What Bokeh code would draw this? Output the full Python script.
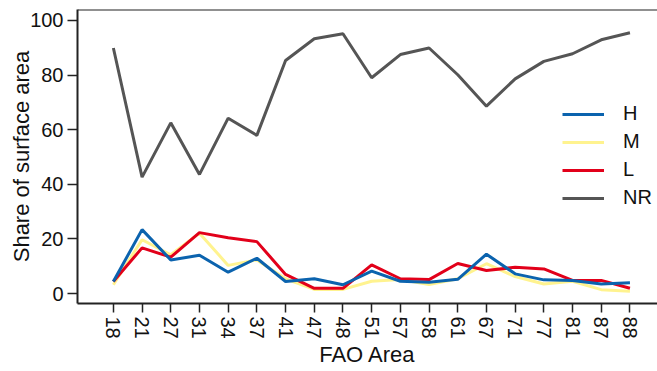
from bokeh.plotting import figure
from bokeh.models import (FixedTicker, Legend, LegendItem, Span, Range1d)
from bokeh.embed import file_html
from bokeh.resources import INLINE

areas = ["18", "21", "27", "31", "34", "37", "41", "47", "48", "51",
         "57", "58", "61", "67", "71", "77", "81", "87", "88"]
H = [4.4, 23.4, 12.3, 14.0, 7.8, 12.9, 4.4, 5.4, 3.2, 8.2,
     4.5, 4.1, 5.2, 14.4, 7.2, 5.0, 4.8, 3.5, 3.9]
M = [3.2, 19.7, 14.2, 22.1, 10.3, 12.3, 5.4, 1.5, 1.5, 4.5,
     5.1, 3.3, 5.4, 10.9, 6.2, 3.5, 4.5, 1.4, 0.8]
L = [4.4, 16.7, 13.3, 22.3, 20.4, 19.0, 7.0, 1.9, 1.9, 10.5,
     5.4, 5.1, 11.0, 8.4, 9.6, 9.0, 4.8, 4.8, 1.9]
NR = [89.9, 42.6, 62.5, 43.6, 64.2, 57.9, 85.3, 93.3, 95.1, 79.0,
      87.5, 89.9, 80.1, 68.6, 78.6, 85.0, 87.8, 92.9, 95.5]
y_ticks = [0, 20, 40, 60, 80, 100]

xs = list(range(len(areas)))
FONT = "Liberation Sans"

p = figure(width=657, height=371, output_backend="svg", toolbar_location=None,
           x_range=Range1d(-1.25, len(areas) - 1 + 0.96),
           y_range=Range1d(-3.66, 104.0),
           min_border_left=77, min_border_right=0, min_border_top=9,
           min_border_bottom=68)
p.outline_line_color = None
p.xgrid.visible = False
p.ygrid.visible = False
p.background_fill_color = "white"

col_H = "#0b63ae"
col_M = "#fff38f"
col_L = "#e2001a"
col_NR = "#555555"

r_nr = p.line(xs, NR, line_color=col_NR, line_width=3)
r_m = p.line(xs, M, line_color=col_M, line_width=3)
r_l = p.line(xs, L, line_color=col_L, line_width=3)
r_h = p.line(xs, H, line_color=col_H, line_width=3)

p.add_layout(Span(location=104.0, dimension="width", line_color="#222222",
                  line_width=2))

# axes
p.xaxis.ticker = FixedTicker(ticks=xs)
p.xaxis.major_label_overrides = {i: a for i, a in enumerate(areas)}
p.xaxis.major_label_orientation = "vertical"
p.yaxis.ticker = FixedTicker(ticks=y_ticks)
for ax in (p.xaxis[0], p.yaxis[0]):
    ax.axis_line_width = 2
    ax.axis_line_color = "#222222"
    ax.major_tick_line_color = "#222222"
    ax.major_tick_line_width = 1.5
    ax.minor_tick_line_color = None
    ax.major_tick_in = 0
    ax.major_label_text_font = FONT
    ax.major_label_text_font_size = "20px"
    ax.major_label_text_color = "#111111"
    ax.axis_label_text_font = FONT
    ax.axis_label_text_font_size = "22px"
    ax.axis_label_text_font_style = "normal"
    ax.axis_label_text_color = "#111111"
p.xaxis.major_tick_out = 9
p.yaxis.major_tick_out = 10
p.xaxis.major_label_standoff = 4
p.yaxis.major_label_standoff = 4
p.xaxis.axis_label = "FAO Area"
p.yaxis.axis_label = "Share of surface area"
p.xaxis.axis_label_standoff = 0
p.yaxis.axis_label_standoff = -7

legend = Legend(items=[
    LegendItem(label="H", renderers=[r_h]),
    LegendItem(label="M", renderers=[r_m]),
    LegendItem(label="L", renderers=[r_l]),
    LegendItem(label="NR", renderers=[r_nr]),
], location=(485, 94))
legend.border_line_color = None
legend.background_fill_alpha = 0
legend.padding = 0
legend.margin = 0
legend.spacing = 5
legend.glyph_width = 42
legend.glyph_height = 22
legend.label_height = 22
legend.label_standoff = 19
legend.label_text_font = FONT
legend.label_text_font_size = "20px"
legend.label_text_color = "#111111"
p.add_layout(legend, "center")

open("out.html", "w").write(file_html(p, INLINE))
